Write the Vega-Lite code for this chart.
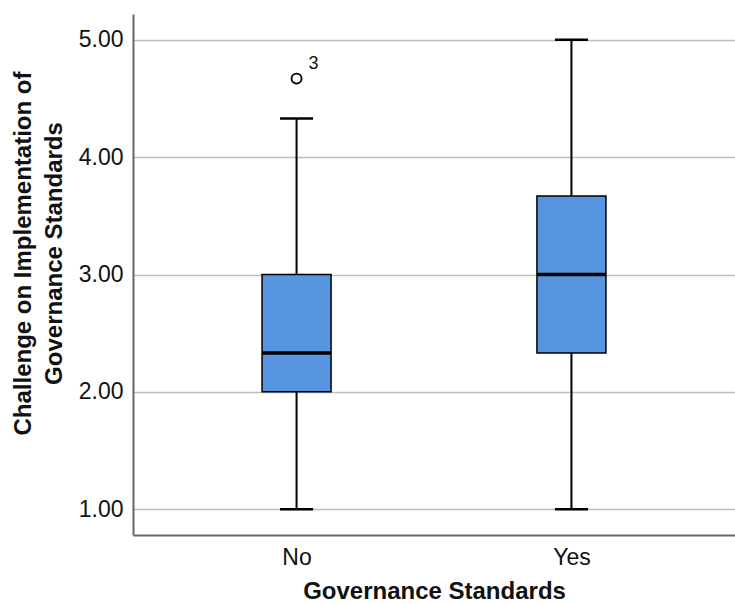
{
  "$schema": "https://vega.github.io/schema/vega-lite/v6.json",
  "width": 602,
  "height": 521,
  "autosize": {"type": "none"},
  "padding": {"left": 133, "top": 14, "right": 0, "bottom": 69},
  "background": "white",
  "config": {
    "font": "Liberation Sans",
    "view": {"stroke": null}
  },
  "datasets": {
    "boxes": [
      {"group": "No", "lower": 1.0, "q1": 2.0, "median": 2.33, "q3": 3.0, "upper": 4.33},
      {"group": "Yes", "lower": 1.0, "q1": 2.33, "median": 3.0, "q3": 3.67, "upper": 5.0}
    ],
    "outliers": [
      {"group": "No", "value": 4.67, "case": "3"}
    ]
  },
  "encoding": {
    "x": {
      "field": "group",
      "type": "nominal",
      "sort": ["No", "Yes"],
      "scale": {"type": "point", "padding": 0.595},
      "axis": {
        "title": "Governance Standards",
        "titleFontSize": 24,
        "titleFontWeight": "bold",
        "titleColor": "#111111",
        "titlePadding": 10,
        "labelFontSize": 23,
        "labelColor": "#111111",
        "labelAngle": 0,
        "labelPadding": 11,
        "ticks": false,
        "domainColor": "#666666",
        "domainWidth": 2,
        "grid": false
      }
    }
  },
  "layer": [
    {
      "data": {"name": "boxes"},
      "mark": {"type": "rule", "color": "black", "strokeWidth": 2},
      "encoding": {
        "y": {
          "field": "lower",
          "type": "quantitative",
          "scale": {"domain": [0.78, 5.22], "nice": false, "zero": false},
          "axis": {
            "title": ["Challenge on Implementation of", "Governance Standards"],
            "titleFontSize": 24,
            "titleFontWeight": "bold",
            "titleColor": "#111111",
            "titleLineHeight": 31,
            "titlePadding": 12,
            "titleY": 239,
            "labelFontSize": 23,
            "labelColor": "#111111",
            "labelPadding": 10,
            "values": [1, 2, 3, 4, 5],
            "format": ".2f",
            "ticks": false,
            "domainColor": "#666666",
            "domainWidth": 2,
            "grid": true,
            "gridColor": "#bdbdbd",
            "gridWidth": 1.5
          }
        },
        "y2": {"field": "upper"}
      }
    },
    {
      "data": {"name": "boxes"},
      "mark": {"type": "bar", "width": 69, "fill": "#5795e1", "stroke": "black", "strokeWidth": 1.5},
      "encoding": {
        "y": {"field": "q1", "type": "quantitative"},
        "y2": {"field": "q3"}
      }
    },
    {
      "data": {"name": "boxes"},
      "mark": {"type": "tick", "color": "black", "size": 69, "thickness": 3.5, "opacity": 1},
      "encoding": {
        "y": {"field": "median", "type": "quantitative"}
      }
    },
    {
      "data": {"name": "boxes"},
      "mark": {"type": "tick", "color": "black", "size": 33, "thickness": 2.5, "opacity": 1},
      "encoding": {
        "y": {"field": "lower", "type": "quantitative"}
      }
    },
    {
      "data": {"name": "boxes"},
      "mark": {"type": "tick", "color": "black", "size": 33, "thickness": 2.5, "opacity": 1},
      "encoding": {
        "y": {"field": "upper", "type": "quantitative"}
      }
    },
    {
      "data": {"name": "outliers"},
      "mark": {"type": "point", "shape": "circle", "filled": false, "stroke": "black", "strokeWidth": 1.8, "size": 100, "opacity": 1},
      "encoding": {
        "y": {"field": "value", "type": "quantitative"}
      }
    },
    {
      "data": {"name": "outliers"},
      "mark": {"type": "text", "fontSize": 18, "color": "#111111", "dx": 17, "dy": -15},
      "encoding": {
        "y": {"field": "value", "type": "quantitative"},
        "text": {"field": "case"}
      }
    }
  ]
}
